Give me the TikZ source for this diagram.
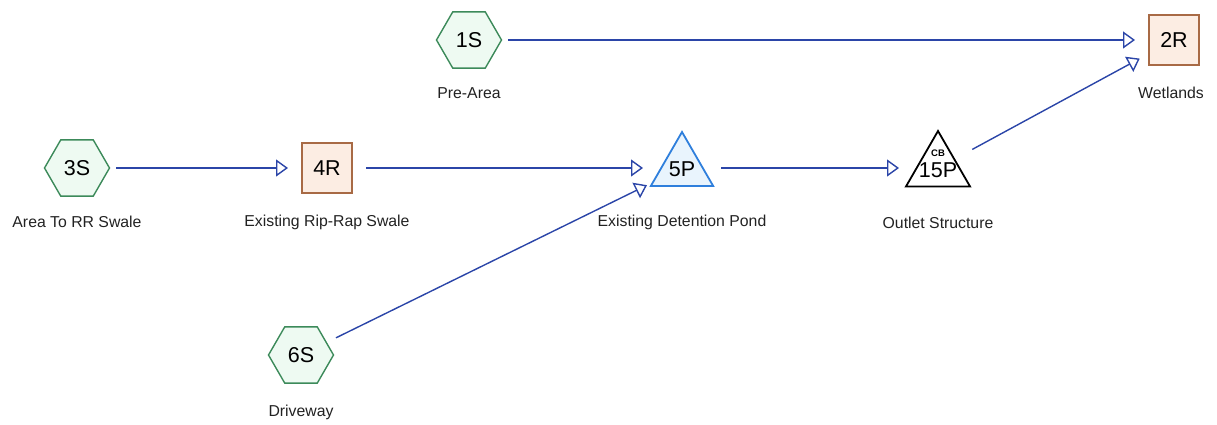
\documentclass[tikz,border=0pt]{standalone}
\usepackage{fontspec}
\setmainfont{Liberation Sans}
\usetikzlibrary{shapes.geometric,arrows.meta}

\definecolor{hexline}{HTML}{3C8A5A}
\definecolor{hexfill}{HTML}{EEFAF2}
\definecolor{reachline}{HTML}{A86A45}
\definecolor{reachfill}{HTML}{FCEDE3}
\definecolor{pondline}{HTML}{2F7FDC}
\definecolor{pondfill}{HTML}{E9F4FD}
\definecolor{flowline}{HTML}{2B45A8}
\definecolor{labeltext}{HTML}{222222}

\tikzset{
  idfont/.style={font=\fontsize{21.5}{21.5}\selectfont, text=black},
  idtext/.style={inner sep=0pt, idfont},
  subcat/.style={regular polygon, regular polygon sides=6, minimum size=65pt,
    inner sep=0pt, draw=hexline, fill=hexfill, line width=1.4pt, idfont},
  reach/.style={rectangle, minimum size=50pt, inner sep=0pt,
    draw=reachline, fill=reachfill, line width=1.4pt, idfont},
  pond/.style={regular polygon, regular polygon sides=3, minimum size=72pt,
    inner sep=0pt, draw=pondline, fill=pondfill, line width=1.8pt},
  outlet/.style={regular polygon, regular polygon sides=3, minimum size=74pt,
    inner sep=0pt, draw=black, fill=white, line width=1.8pt},
  caption/.style={font=\fontsize{15.8}{15.8}\selectfont, text=labeltext, inner sep=0pt},
  flow/.style={draw=flowline, line width=1.4pt,
    -{Triangle[open, length=12pt, width=17pt, line width=1.4pt]},
    shorten <=39pt, shorten >=39pt},
}

\begin{document}
\begin{tikzpicture}[x=1pt, y=-1pt]
\useasboundingbox (0,0) rectangle (1217,425);

% subcatchments and reaches
\node[subcat] (s1) at (469,40) {1S};
\node[reach]  (r2) at (1174,40) {2R};
\node[subcat] (s3) at (77,168) {3S};
\node[reach]  (r4) at (327,168) {4R};
\node[subcat] (s6) at (301,355) {6S};

% ponds: shape first, identifier on top
\node[pond]   (p5)  at (682,168) {};
\node[idtext] (p5id) at (682,169) {5P};
\node[outlet] (p15) at (938,168) {};
\node[idtext] (p15id) at (938,170) {15P};
\node[font=\fontsize{9.5}{9.5}\selectfont\bfseries, inner sep=0pt] (cb) at (938,153.5) {CB};

% captions
\node[caption] (c1)  at (469,93)  {Pre-Area};
\node[caption] (c2)  at (1171,93) {Wetlands};
\node[caption] (c3)  at (77,222)  {Area To RR Swale};
\node[caption] (c4)  at (327,222) {Existing Rip-Rap Swale};
\node[caption] (c5)  at (682,222) {Existing Detention Pond};
\node[caption] (c15) at (938,223) {Outlet Structure};
\node[caption] (c6)  at (301,412) {Driveway};

% routing
\draw[flow] (s1.center) -- (r2.center);
\draw[flow] (s3.center) -- (r4.center);
\draw[flow] (r4.center) -- (p5.center);
\draw[flow] (p5.center) -- (p15.center);
\draw[flow] (p15.center) -- (r2.center);
\draw[flow] (s6.center) -- (p5.center);
\end{tikzpicture}
\end{document}
